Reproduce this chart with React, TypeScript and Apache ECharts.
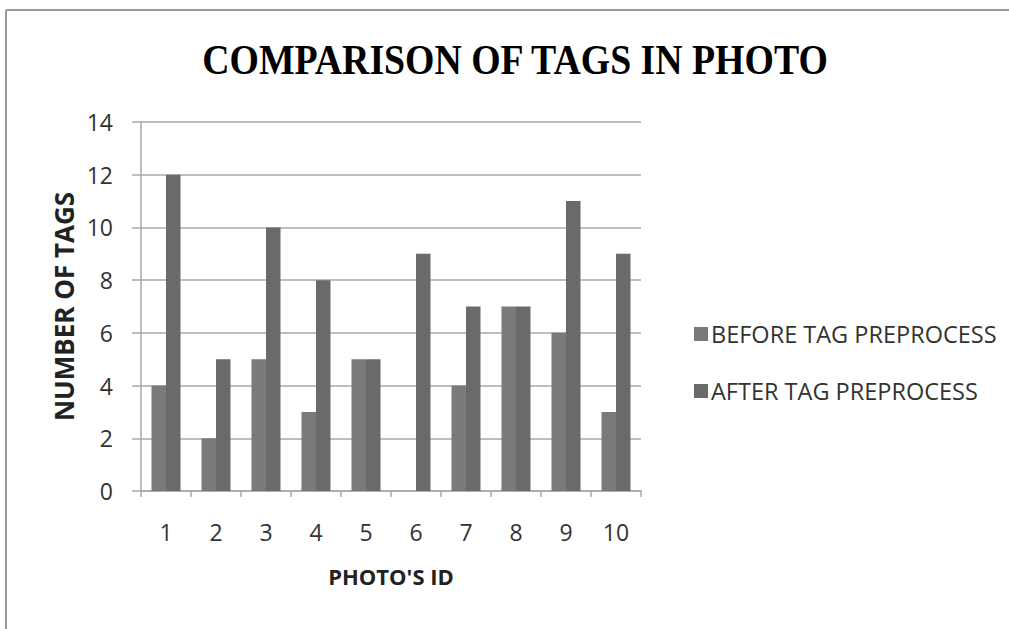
import React, { useEffect, useRef } from "react";
import * as echarts from "echarts";

const categories = ["1", "2", "3", "4", "5", "6", "7", "8", "9", "10"];
const beforeValues = [4, 2, 5, 3, 5, 0, 4, 7, 6, 3];
const afterValues = [12, 5, 10, 8, 5, 9, 7, 7, 11, 9];
const seriesNames = ["BEFORE TAG PREPROCESS", "AFTER TAG PREPROCESS"];
const titleText = "COMPARISON OF TAGS IN PHOTO";

const sans = "'Open Sans', 'Noto Sans', sans-serif";

export default function App() {
  const ref = useRef<HTMLDivElement>(null);
  useEffect(() => {
    document.body.style.margin = "0";
    document.documentElement.style.overflow = "hidden";
    const chart = echarts.init(ref.current!, null, { renderer: "svg" });
    chart.setOption({
      animation: false,
      backgroundColor: "#ffffff",
      graphic: [
        {
          type: "line",
          shape: { x1: 6, y1: 10, x2: 1009, y2: 10 },
          style: { stroke: "#9a9a9a", lineWidth: 2 },
          silent: true,
        },
        {
          type: "line",
          shape: { x1: 6, y1: 10, x2: 6, y2: 629 },
          style: { stroke: "#9a9a9a", lineWidth: 2 },
          silent: true,
        },
        {
          type: "text",
          x: 515,
          y: 60,
          scaleX: 0.9,
          style: {
            text: titleText,
            fontFamily: "'Liberation Serif', 'DejaVu Serif', serif",
            fontWeight: "bold",
            fontSize: 42,
            fill: "#000000",
            align: "center",
            verticalAlign: "middle",
          },
          silent: true,
        },
      ],
      legend: {
        orient: "vertical",
        left: 689,
        top: 317,
        itemGap: 33,
        itemWidth: 14,
        itemHeight: 14,
        icon: "rect",
        textStyle: { fontFamily: sans, fontSize: 23.5, color: "#333333", padding: [0, 0, 0, -2] },
        data: seriesNames,
      },
      grid: { left: 141, top: 122, width: 500, height: 369, containLabel: false },
      xAxis: {
        type: "category",
        data: categories,
        name: "PHOTO'S ID",
        nameLocation: "middle",
        nameGap: 74,
        nameTextStyle: { fontFamily: sans, fontSize: 22, fontWeight: "bold", color: "#222" },
        axisLine: { lineStyle: { color: "#a8a8a8", width: 1.5 } },
        axisTick: { show: true, length: 6, lineStyle: { color: "#a8a8a8", width: 1.5 } },
        axisLabel: { fontFamily: sans, fontSize: 23, color: "#333", margin: 29 },
      },
      yAxis: {
        type: "value",
        min: 0,
        max: 14,
        interval: 2,
        name: "NUMBER OF TAGS",
        nameLocation: "middle",
        nameGap: 64,
        nameRotate: 90,
        nameTextStyle: { fontFamily: sans, fontSize: 26, fontWeight: "bold", color: "#222" },
        axisLine: { show: true, lineStyle: { color: "#a8a8a8", width: 1.5 } },
        axisTick: { show: true, length: 9, lineStyle: { color: "#a8a8a8", width: 1.5 } },
        splitLine: { lineStyle: { color: "#a8a8a8", width: 1.5 } },
        axisLabel: { fontFamily: sans, fontSize: 23, color: "#333", margin: 28 },
      },
      series: [
        {
          name: seriesNames[0],
          type: "bar",
          data: beforeValues,
          barGap: "0%",
          barCategoryGap: "42%",
          itemStyle: { color: "#7a7a7a" },
        },
        {
          name: seriesNames[1],
          type: "bar",
          data: afterValues,
          itemStyle: { color: "#6a6a6a" },
        },
      ],
    });
    return () => chart.dispose();
  }, []);
  return <div ref={ref} style={{ width: 1009, height: 629 }} />;
}
